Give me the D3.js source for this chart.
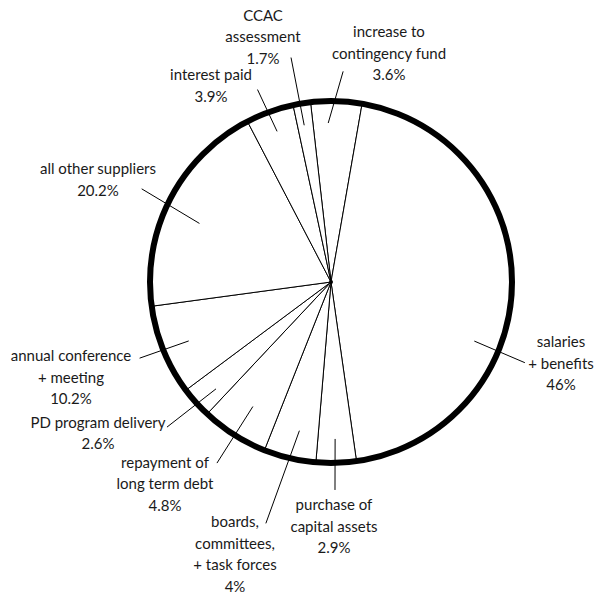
<!DOCTYPE html>
<html>
<head>
<meta charset="utf-8">
<script src="https://cdn.jsdelivr.net/npm/d3@7"></script>
<style>
  body { margin: 0; background: #fff; }
  svg { display: block; }
  text { font-family: Lato, "Noto Sans", sans-serif; font-size: 15px; fill: #1a1a1a; }
</style>
</head>
<body>
<svg width="595" height="595"></svg>
<script>
const svg = d3.select("svg");

// budget categories, clockwise from 12 o'clock
const categories = [
    ["increase to", "contingency fund"],
    ["salaries", "+ benefits"],
    ["purchase of", "capital assets"],
    ["boards,", "committees,", "+ task forces"],
    ["repayment of", "long term debt"],
    ["PD program delivery"],
    ["annual conference", "+ meeting"],
    ["all other suppliers"],
    ["interest paid"],
    ["CCAC", "assessment"]
];
// printed percentages
const percents = ["3.6%", "46%", "2.9%", "4%", "4.8%", "2.6%", "10.2%", "20.2%", "3.9%", "1.7%"];
// slice sizes as drawn in the picture (degrees of arc)
const sliceDegrees = [16.4, 162, 12.9, 16.8, 21.6, 10.1, 29, 70.2, 15.4, 5.6];
const startDegrees = -6.5;

// label layout: text centre x, first baseline y
const labelX = [389, 561, 334, 235, 165, 98, 71, 98, 211, 263];
const labelY = [37, 347, 510, 527, 467.5, 427.5, 361, 174, 80, 20.5];
// leader lines: [inner angle, inner radius, outer angle, outer radius]
const leaders = [
    [-1, 159, 3.3, 211],
    [112.4, 155, 112.6, 210],
    [178.5, 157, 178.9, 208],
    [192, 152, 195.1, 250],
    [212.1, 147, 212.2, 214],
    [227.1, 157, 228.5, 219],
    [247.5, 154, 248.3, 206],
    [294, 144, 296.2, 211],
    [340.3, 160, 339.1, 206],
    [350.3, 159, 349.9, 228]
];

const cx = 331, cy = 282, radius = 181;
const rad = d => d * Math.PI / 180;
const polar = (a, r) => [cx + r * Math.sin(rad(a)), cy - r * Math.cos(rad(a))];

const rows = categories.map((c, i) => ({ lines: c.concat([percents[i]]), deg: sliceDegrees[i], i }));

const pie = d3.pie()
    .sort(null)
    .value(d => d.deg)
    .startAngle(rad(startDegrees))
    .endAngle(rad(startDegrees + 360));

const arc = d3.arc().innerRadius(0).outerRadius(radius);

const g = svg.append("g").attr("transform", `translate(${cx},${cy})`);

g.selectAll("path.slice")
    .data(pie(rows))
    .join("path")
    .attr("class", "slice")
    .attr("d", arc)
    .attr("fill", "#fff")
    .attr("stroke", "#000")
    .attr("stroke-width", 1)
    .attr("stroke-linejoin", "round");

g.append("circle")
    .attr("r", radius)
    .attr("fill", "none")
    .attr("stroke", "#000")
    .attr("stroke-width", 6);

g.append("circle").attr("r", 2).attr("fill", "#000");

// leaders
svg.selectAll("line.leader")
    .data(leaders)
    .join("line")
    .attr("class", "leader")
    .attr("x1", d => polar(d[0], d[1])[0])
    .attr("y1", d => polar(d[0], d[1])[1])
    .attr("x2", d => polar(d[2], d[3])[0])
    .attr("y2", d => polar(d[2], d[3])[1])
    .attr("stroke", "#000")
    .attr("stroke-width", 1);

// labels
const labels = svg.selectAll("text.label")
    .data(rows)
    .join("text")
    .attr("class", "label")
    .attr("text-anchor", "middle");

labels.selectAll("tspan")
    .data(d => d.lines.map((t, k) => ({ t, k, i: d.i })))
    .join("tspan")
    .attr("x", d => labelX[d.i])
    .attr("y", d => labelY[d.i] + d.k * 21.5)
    .text(d => d.t);
</script>
</body>
</html>
